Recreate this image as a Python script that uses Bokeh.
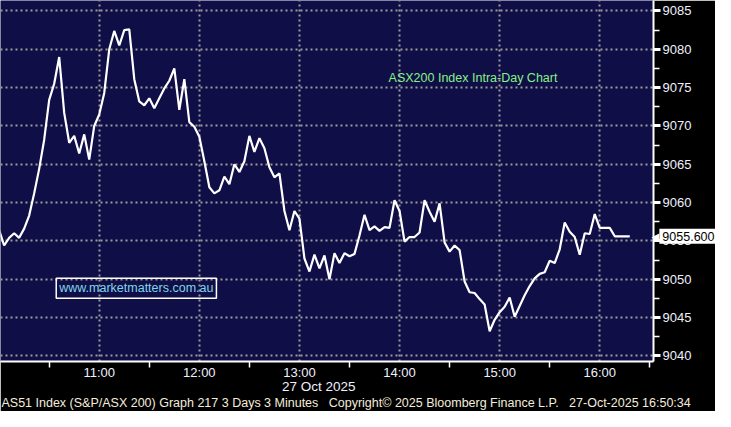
from bokeh.plotting import figure
from bokeh.models import FixedTicker, Label, Range1d, GridBox
from bokeh.embed import file_html
from bokeh.resources import INLINE

# ---- data (3-minute bars from 10:00) ----
start_hour = 10.0
step_minutes = 3
values = [
    9056.4, 9054.4, 9055.4, 9056.0, 9055.4, 9056.6, 9058.3, 9061.2, 9064.4, 9068.2,
    9073.4, 9075.5, 9079.0, 9071.7, 9067.8, 9068.7, 9066.4, 9068.9, 9065.6, 9070.0,
    9071.5, 9074.3, 9080.0, 9082.4, 9080.5, 9082.5, 9082.6, 9076.1, 9073.2, 9072.7,
    9073.6, 9072.3, 9073.6, 9074.9, 9075.9, 9077.5, 9072.1, 9076.1, 9070.5, 9069.9,
    9068.6, 9065.4, 9062.0, 9061.2, 9061.6, 9063.4, 9062.4, 9065.0, 9064.0, 9065.4,
    9068.7, 9066.6, 9068.4, 9067.1, 9064.6, 9063.3, 9063.8, 9058.9, 9056.4, 9058.9,
    9057.9, 9052.7, 9051.0, 9053.2, 9051.4, 9053.1, 9050.0, 9053.4, 9052.1, 9053.4,
    9053.0, 9053.3, 9055.7, 9058.4, 9056.4, 9056.9, 9056.3, 9056.8, 9056.7, 9060.3,
    9058.9, 9054.9, 9055.5, 9055.5, 9056.1, 9060.3, 9058.8, 9057.5, 9059.9, 9054.8,
    9053.6, 9054.4, 9053.8, 9049.7, 9048.3, 9048.2, 9047.4, 9046.7, 9043.2, 9044.7,
    9045.7, 9046.4, 9047.6, 9045.1, 9046.5, 9047.9, 9049.1, 9050.1, 9050.7, 9050.9,
    9052.4, 9052.1, 9053.9, 9057.4, 9056.2, 9055.5, 9053.2, 9056.0, 9055.9, 9058.5,
    9056.7, 9056.7, 9056.7, 9055.6, 9055.6, 9055.6, 9055.6,
]
last_value = 9055.600
times = [start_hour + i * step_minutes / 60.0 for i in range(len(values))]

x_ticks = [11, 12, 13, 14, 15, 16]
x_tick_labels = ["11:00", "12:00", "13:00", "14:00", "15:00", "16:00"]
x_minor_ticks = [10.5, 11.5, 12.5, 13.5, 14.5, 15.5, 16.5]
y_ticks = [9040, 9045, 9050, 9055, 9060, 9065, 9070, 9075, 9080, 9085]
y_minor_ticks = [9037.5, 9042.5, 9047.5, 9052.5, 9057.5, 9062.5, 9067.5, 9072.5, 9077.5, 9082.5, 9087.5]

title_text = "ASX200 Index Intra-Day Chart"
watermark_text = "www.marketmatters.com.au"
date_text = "27 Oct 2025"
SP = "\u00a0"
footer_text = ("AS51 Index (S&P/ASX 200) Graph 217 3 Days 3 Minutes" + SP * 3 +
               "Copyright\u00a9 2025 Bloomberg Finance L.P." + SP * 3 +
               "27-Oct-2025 16:50:34")

# ---- main figure ----
W, H = 715, 411
RIGHT, BOTTOM = 62, 50
FW, FH = W - RIGHT, H - BOTTOM
x0, x1 = 10.0136, 16.537
y0, y1 = 9039.26, 9086.37

p = figure(width=W, height=H, output_backend="svg", toolbar_location=None,
           x_range=Range1d(x0, x1), y_range=Range1d(y0, y1),
           y_axis_location="right",
           min_border_left=0, min_border_top=0,
           min_border_right=RIGHT, min_border_bottom=BOTTOM)

p.background_fill_color = "#100e47"
p.border_fill_color = "black"
p.outline_line_color = None

FONT = "Liberation Sans"
LABEL_COLOR = "#f0f0ff"

for g in (p.xgrid, p.ygrid):
    g.grid_line_color = "#9c9c9c"
    g.grid_line_dash = "2 3"
    g.grid_line_width = 2
p.xgrid.ticker = FixedTicker(ticks=x_ticks)
p.ygrid.ticker = FixedTicker(ticks=y_ticks)

xa = p.xaxis[0]
xa.ticker = FixedTicker(ticks=x_ticks, minor_ticks=x_minor_ticks)
xa.major_label_overrides = {t: s for t, s in zip(x_ticks, x_tick_labels)}
xa.axis_line_color = "white"
xa.axis_line_width = 2
xa.major_tick_out = 0
xa.major_tick_in = 0
xa.minor_tick_out = 6
xa.minor_tick_in = 0
xa.minor_tick_line_color = "white"
xa.minor_tick_line_width = 1.5
xa.major_label_text_color = LABEL_COLOR
xa.major_label_text_font = FONT
xa.major_label_text_font_size = "13px"
xa.major_label_standoff = -3

ya = p.yaxis[0]
ya.ticker = FixedTicker(ticks=y_ticks, minor_ticks=y_minor_ticks)
ya.axis_line_color = "white"
ya.axis_line_width = 2
ya.major_tick_out = 7
ya.major_tick_in = 0
ya.major_tick_line_color = "white"
ya.major_tick_line_width = 3
ya.minor_tick_out = 6
ya.minor_tick_in = 0
ya.minor_tick_line_color = "white"
ya.minor_tick_line_width = 1.5
ya.major_label_text_color = LABEL_COLOR
ya.major_label_text_font = FONT
ya.major_label_text_font_size = "13px"
ya.major_label_standoff = 2

p.line(times, values, line_color="white", line_width=2.2)

# reference-pixel offsets -> data positions
ppx = 102.4   # px per hour in reference
ppy = 7.96    # px per index point in reference
def dx(px):
    return x0 + px / ppx
def dy(py):
    return y1 - py / ppy

p.add_layout(Label(x=dx(397), y=dy(80), text=title_text, text_color="#86f286",
                   text_font=FONT, text_font_size="12.5px", text_baseline="middle"))
p.add_layout(Label(x=dx(57), y=dy(299), text=watermark_text, text_color="#7fd6ea",
                   text_font=FONT, text_font_size="12.5px", text_baseline="middle",
                   border_line_color="white", border_line_width=1.5, padding=3))

# ---- transparent overlay with the same data mapping over the whole canvas ----
ov = figure(width=W, height=H, output_backend="svg", toolbar_location=None,
            x_range=Range1d(x0, x0 + (x1 - x0) * W / FW),
            y_range=Range1d(y1 - (y1 - y0) * H / FH, y1),
            x_axis_location=None, y_axis_location=None,
            min_border=0, min_border_left=0, min_border_right=0,
            min_border_top=0, min_border_bottom=0)
ov.background_fill_color = None
ov.border_fill_color = None
ov.outline_line_color = None
ov.grid.visible = False

ov.add_layout(Label(x=dx(288), y=dy(401), text=date_text, text_color=LABEL_COLOR,
                    text_font=FONT, text_font_size="13.5px", text_baseline="middle"))
ov.add_layout(Label(x=dx(1), y=dy(418), text=footer_text, text_color="#f5ecdc",
                    text_font=FONT, text_font_size="12.5px", text_baseline="middle"))
ov.add_layout(Label(x=dx(666), y=last_value, text="\u25c0", text_color="white",
                    text_font="DejaVu Sans", text_font_size="10px", text_baseline="middle"))
ov.add_layout(Label(x=dx(674), y=last_value, text=f"{last_value:.3f}", text_color="black",
                    text_font=FONT, text_font_size="12.5px", text_baseline="middle",
                    background_fill_color="white", padding=3))

# overlay spans an extra (empty) row/column so its borders are not aligned to p's
layout = GridBox(children=[(p, 0, 0, 1, 1), (ov, 0, 0, 2, 2)])

open("out.html", "w").write(file_html(layout, INLINE))
